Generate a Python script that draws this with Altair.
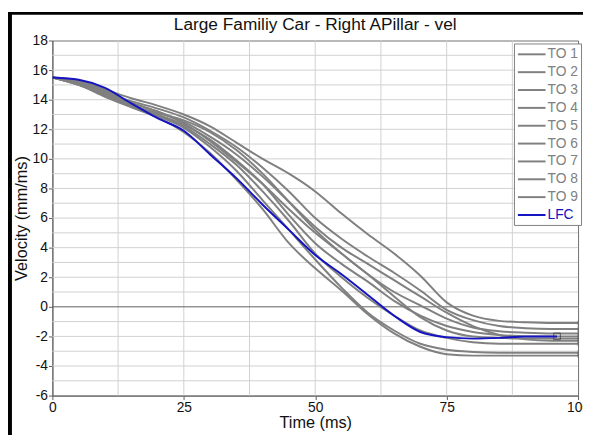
import altair as alt
import pandas as pd

# ---- data ----
T = [0, 5, 10, 15, 20, 25, 30, 35, 40, 45, 50, 55, 60, 65, 70, 75, 80, 85, 90, 95, 100]
TO1 = [15.5, 15.3, 14.7, 14.1, 13.6, 13.0, 12.2, 11.1, 10.0, 9.0, 7.8, 6.3, 4.9, 3.6, 2.1, 0.3, -0.6, -0.95, -1.05, -1.1, -1.1]
TO2 = [15.5, 15.1, 14.5, 13.9, 13.4, 12.8, 11.9, 10.8, 9.4, 7.8, 6.0, 4.6, 3.4, 2.3, 1.1, -0.2, -0.9, -1.3, -1.45, -1.5, -1.5]
TO3 = [15.5, 15.2, 14.6, 13.8, 13.2, 12.5, 11.5, 10.3, 8.8, 7.1, 5.4, 4.0, 2.9, 1.8, 0.7, -0.4, -1.3, -1.9, -2.2, -2.3, -2.3]
TO4 = [15.5, 15.0, 14.3, 13.6, 13.1, 12.6, 11.8, 10.6, 9.0, 7.1, 5.2, 3.6, 2.2, 1.0, 0.1, -0.8, -1.4, -1.65, -1.75, -1.8, -1.8]
TO5 = [15.5, 15.2, 14.5, 13.7, 13.0, 12.3, 11.3, 9.9, 8.3, 6.2, 4.3, 2.9, 1.7, 0.4, -0.6, -1.3, -1.7, -1.9, -2.0, -2.0, -2.0]
TO6 = [15.5, 15.0, 14.2, 13.5, 12.9, 12.2, 11.0, 9.6, 7.8, 5.8, 3.6, 2.0, 0.6, -0.6, -1.6, -2.1, -2.4, -2.5, -2.5, -2.5, -2.5]
TO7 = [15.5, 15.1, 14.4, 13.6, 12.9, 12.1, 10.8, 9.2, 7.2, 5.2, 3.2, 1.3, -0.4, -1.6, -2.5, -2.9, -3.05, -3.1, -3.1, -3.1, -3.1]
TO8 = [15.5, 15.0, 14.3, 13.5, 12.8, 11.8, 10.4, 8.6, 6.6, 4.3, 2.6, 1.1, -0.5, -1.8, -2.7, -3.2, -3.3, -3.3, -3.3, -3.3, -3.3]
TO9 = [15.5, 15.2, 14.6, 13.8, 13.2, 12.4, 11.2, 9.8, 8.3, 6.6, 5.0, 3.6, 2.2, 0.7, -0.7, -1.6, -2.0, -2.1, -2.15, -2.15, -2.15]
LFC_T = [0, 5, 10, 15, 20, 25, 30, 35, 40, 45, 50, 55, 60, 65, 70, 75, 80, 85, 90, 95, 96]
LFC = [15.5, 15.35, 14.8, 13.75, 12.75, 11.9, 10.3, 8.7, 6.9, 5.2, 3.5, 2.2, 0.8, -0.6, -1.7, -2.05, -2.15, -2.1, -2.0, -2.0, -2.0]

SERIES = ["TO 1", "TO 2", "TO 3", "TO 4", "TO 5", "TO 6", "TO 7", "TO 8", "TO 9", "LFC"]
GRAY_VALUES = [TO1, TO2, TO3, TO4, TO5, TO6, TO7, TO8, TO9]

X_TICKS = [0, 25, 50, 75, 100]
X_GRID = [12.5, 25, 37.5, 50, 62.5, 75, 87.5]
Y_TICKS = list(range(-6, 19, 2))
Y_GRID = [v for v in range(-5, 18) if v != 0]

TITLE = "Large Familiy Car  - Right APillar - vel"
X_TITLE = "Time (ms)"
Y_TITLE = "Velocity (mm/ms)"

GRAY = "#808080"
BLUE = "#1414c0"

rows = []
for name, vals in zip(SERIES[:9], GRAY_VALUES):
    for t, v in zip(T, vals):
        rows.append({"series": name, "t": t, "v": v})
gray_df = pd.DataFrame(rows)
lfc_df = pd.DataFrame({"series": "LFC", "t": LFC_T, "v": LFC})
end_df = lfc_df.tail(1)
gray_end = gray_df[gray_df["t"] == 100]
zero_df = pd.DataFrame({"v": [0]})
xgrid_df = pd.DataFrame({"t": X_GRID})
ygrid_df = pd.DataFrame({"v": Y_GRID})

FONT = "Liberation Sans"
GRID = "#d0d0d0"

x_scale = alt.Scale(domain=[0, 100], nice=False)
y_scale = alt.Scale(domain=[-6, 18], nice=False)
x_axis = alt.Axis(values=X_TICKS, tickCount=40, title=X_TITLE, grid=False, labelExpr="'' + datum.value")
y_axis = alt.Axis(values=Y_TICKS, tickCount=40, title=Y_TITLE, grid=False, labelExpr="'' + datum.value")


def X():
    return alt.X("t:Q", scale=x_scale, axis=x_axis)


def Y():
    return alt.Y("v:Q", scale=y_scale, axis=y_axis)


color_enc = alt.Color("series:N",
                      scale=alt.Scale(domain=SERIES, range=[GRAY] * 9 + [BLUE]),
                      legend=alt.Legend(title=None, orient="none", legendX=468, legendY=3,
                                        symbolType="M-3,0H1", symbolSize=196, symbolStrokeWidth=2,
                                        symbolOffset=14,
                                        labelFontSize=14, labelFont=FONT, labelOffset=1,
                                        rowPadding=3.1, padding=3,
                                        strokeColor="#808080", fillColor="white",
                                        labelColor=alt.ExprRef("datum.label == 'LFC' ? '%s' : '%s'" % (BLUE, GRAY))))

xgrid = alt.Chart(xgrid_df).mark_rule(color=GRID, strokeWidth=1).encode(x=X())
ygrid = alt.Chart(ygrid_df).mark_rule(color=GRID, strokeWidth=1).encode(y=Y())
zero = alt.Chart(zero_df).mark_rule(color="#606060", strokeWidth=1).encode(y=Y())
gray_lines = alt.Chart(gray_df).mark_line(strokeWidth=2, interpolate="monotone").encode(
    x=X(), y=Y(), color=color_enc, detail="series:N")
blue_line = alt.Chart(lfc_df).mark_line(strokeWidth=2, interpolate="monotone").encode(
    x=X(), y=Y(), color=alt.Color("series:N"))
gray_ticks = alt.Chart(gray_end).mark_tick(color="#606060", size=5, thickness=1, orient="vertical").encode(
    x=X(), y=Y())
end_mark = alt.Chart(end_df).mark_point(shape="square", size=45, filled=False, color="#303030", strokeWidth=1).encode(
    x=X(), y=Y())

frame_left = alt.Chart(zero_df).mark_rule(color="black", strokeWidth=4).encode(
    x=alt.value(-43), y=alt.value(-27), y2=alt.value(400))
frame_top = alt.Chart(zero_df).mark_rule(color="black", strokeWidth=3).encode(
    x=alt.value(-45), x2=alt.value(545), y=alt.value(-27.5))

chart = alt.layer(xgrid, ygrid, zero, gray_lines, blue_line, gray_ticks, end_mark, frame_left, frame_top).properties(
    width=533, height=360,
    title=alt.TitleParams(TITLE, font=FONT, fontSize=17.5, fontWeight="normal", color="#111111",
                          anchor="middle", offset=6, dy=28),
    autosize=alt.AutoSizeParams(type="none"),
    padding={"left": 45, "top": 30, "right": 5, "bottom": 37},
    background="white",
).configure_view(stroke="#707070", strokeWidth=1).configure_axis(
    grid=False, labelOverlap=False,
    domainColor="#606060", tickColor="#606060", tickSize=4,
    labelFont=FONT, labelFontSize=14, labelColor="#111111", labelPadding=1,
    titleFont=FONT, titleFontSize=16.5, titleFontWeight="normal", titleColor="#111111",
).configure_axisX(titlePadding=0, labelFlush=False).configure_axisY(titlePadding=3)

chart.save("out.html", embed_options={"renderer": "svg", "actions": False})
